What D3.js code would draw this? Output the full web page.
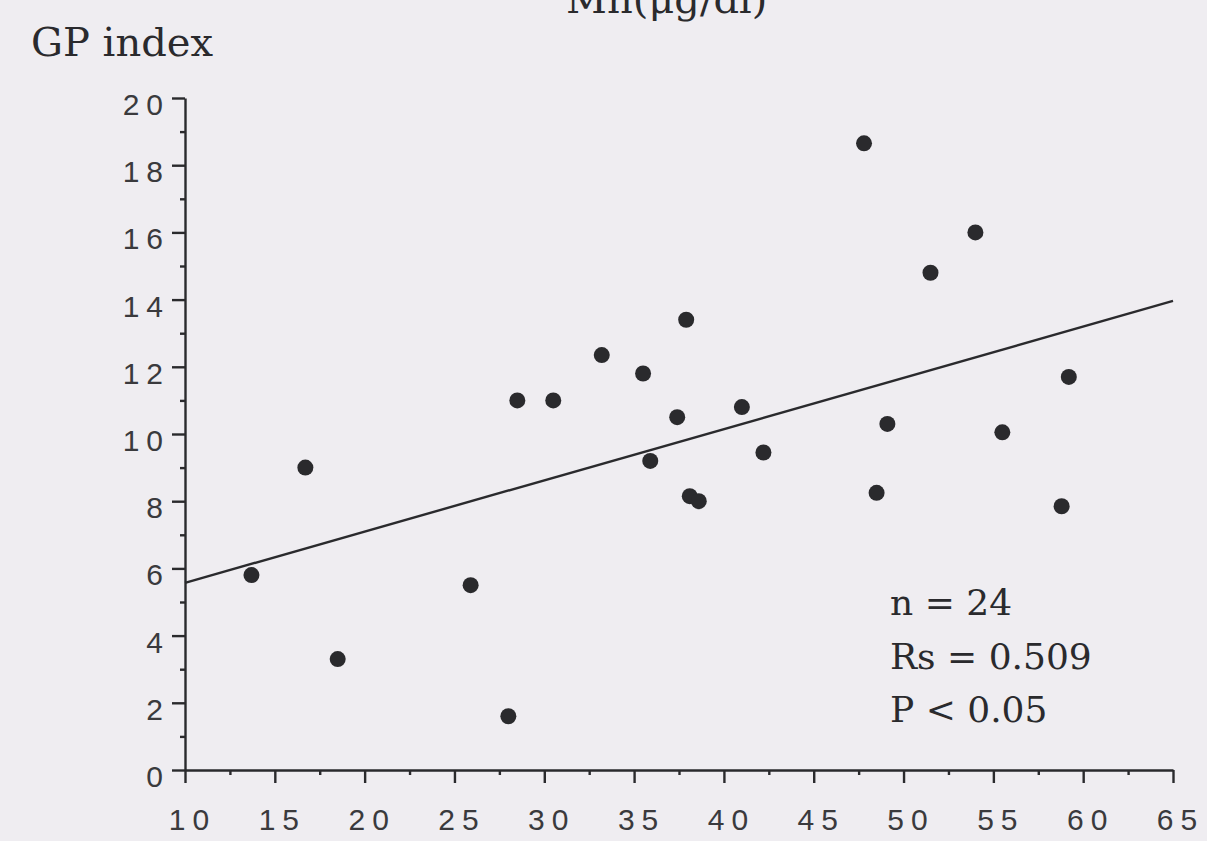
<!DOCTYPE html>
<html>
<head>
<meta charset="utf-8">
<script src="https://cdn.jsdelivr.net/npm/d3@7"></script>
<style>
  html, body { margin: 0; padding: 0; background: #efedf1; }
  svg { display: block; }
</style>
</head>
<body>
<svg width="1207" height="841"></svg>
<script>
const svg = d3.select('svg');

// Mn (ug/dl) on x, GP index on y
const mnValues = [13.7, 16.7, 18.5, 25.9, 28.0, 28.5, 30.5, 33.2, 35.5, 35.9, 37.4, 37.9,
                  38.1, 38.6, 41.0, 42.2, 47.8, 48.5, 49.1, 51.5, 54.0, 55.5, 58.8, 59.2];
const gpValues = [5.8, 9.0, 3.3, 5.5, 1.6, 11.0, 11.0, 12.35, 11.8, 9.2, 10.5, 13.4,
                  8.15, 8.0, 10.8, 9.45, 18.65, 8.25, 10.3, 14.8, 16.0, 10.05, 7.85, 11.7];

// regression line end points
const trendX = [10, 65];
const trendY = [5.57, 13.96];

const xTicks = [10, 15, 20, 25, 30, 35, 40, 45, 50, 55, 60, 65];
const xMinor = [12.5, 17.5, 22.5, 27.5, 32.5, 37.5, 42.5, 47.5, 52.5, 57.5, 62.5];
const yTicks = [0, 2, 4, 6, 8, 10, 12, 14, 16, 18, 20];
const yMinor = [1, 3, 5, 7, 9, 11, 13, 15, 17, 19];

const statLines = ['n = 24', 'Rs = 0.509', 'P < 0.05'];

const ink = '#2a2a2d';

const x = d3.scaleLinear().domain([10, 65]).range([185, 1173]);
const y = d3.scaleLinear().domain([0, 20]).range([770, 98]);

// y axis: major + minor ticks
const yAxis = svg.append('g')
  .attr('transform', `translate(${x(10)},0)`)
  .call(d3.axisLeft(y).tickValues(yTicks).tickSize(13).tickSizeOuter(0).tickPadding(2));
svg.append('g')
  .attr('transform', `translate(${x(10)},0)`)
  .call(d3.axisLeft(y).tickValues(yMinor).tickSize(5).tickSizeOuter(0).tickFormat(''))
  .select('.domain').remove();

// x axis: major + minor ticks
const xAxis = svg.append('g')
  .attr('transform', `translate(0,${y(0)})`)
  .call(d3.axisBottom(x).tickValues(xTicks).tickSize(13).tickSizeOuter(0));
svg.append('g')
  .attr('transform', `translate(0,${y(0)})`)
  .call(d3.axisBottom(x).tickValues(xMinor).tickSize(5).tickSizeOuter(0).tickFormat(''))
  .select('.domain').remove();

svg.selectAll('.domain, .tick line')
  .attr('stroke', ink)
  .attr('stroke-width', 2.4);

yAxis.selectAll('text')
  .attr('font-family', '"Liberation Sans", Arial, sans-serif')
  .attr('font-size', 30)
  .attr('letter-spacing', 7)
  .attr('fill', '#3a3a3d')
  .attr('dy', '0.55em');

xAxis.selectAll('text')
  .attr('font-family', '"Liberation Sans", Arial, sans-serif')
  .attr('font-size', 30)
  .attr('letter-spacing', 7)
  .attr('fill', '#3a3a3d')
  .attr('y', 39)
  .attr('dx', 7);

// trend line
svg.append('line')
  .attr('x1', x(trendX[0]))
  .attr('y1', y(trendY[0]))
  .attr('x2', x(trendX[1]))
  .attr('y2', y(trendY[1]))
  .attr('stroke', ink)
  .attr('stroke-width', 2.4);

// points
svg.selectAll('.point')
  .data(d3.zip(mnValues, gpValues))
  .enter()
  .append('circle')
  .attr('class', 'point')
  .attr('cx', d => x(d[0]))
  .attr('cy', d => y(d[1]))
  .attr('r', 8)
  .attr('fill', ink);

// titles
svg.append('text')
  .attr('x', 31)
  .attr('y', 56)
  .attr('font-family', '"DejaVu Serif", serif')
  .attr('font-size', 40)
  .attr('fill', ink)
  .text('GP index');

// x-axis title sits at the top edge, cut off as in the scan
svg.append('text')
  .attr('x', 566)
  .attr('y', 13)
  .attr('font-family', '"DejaVu Serif", serif')
  .attr('font-size', 40)
  .attr('fill', ink)
  .text('Mn(μg/dl)');

// stats block
svg.selectAll('.stat')
  .data(statLines)
  .enter()
  .append('text')
  .attr('class', 'stat')
  .attr('x', 890)
  .attr('y', (d, i) => 615 + i * 53.5)
  .attr('font-family', '"DejaVu Serif", serif')
  .attr('font-size', 36)
  .attr('fill', ink)
  .text(d => d);
</script>
</body>
</html>
